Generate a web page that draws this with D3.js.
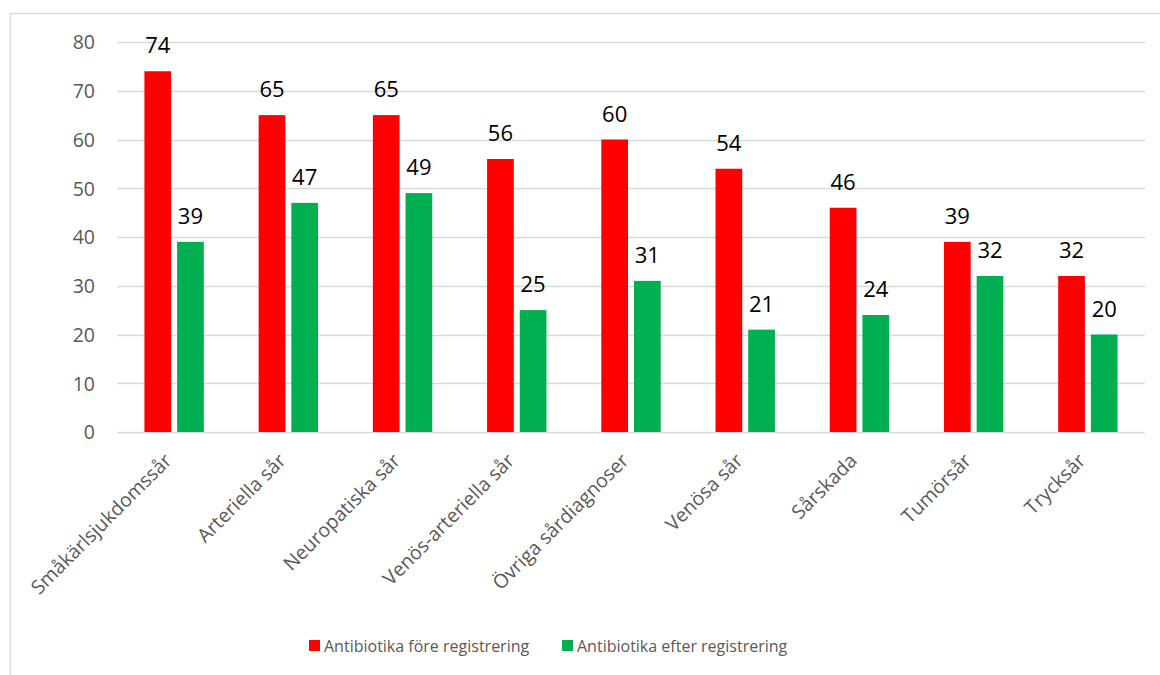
<!DOCTYPE html>
<html><head><meta charset="utf-8">
<script src="https://cdn.jsdelivr.net/npm/d3@7"></script>
<style>body{margin:0;background:#fff;} svg{display:block;font-family:"Open Sans",sans-serif;}</style>
</head><body>
<svg id="c" width="1160" height="675"></svg>
<script>
const categories = ["Småkärlsjukdomssår","Arteriella sår","Neuropatiska sår","Venös-arteriella sår","Övriga sårdiagnoser","Venösa sår","Sårskada","Tumörsår","Trycksår"];
const seriesNames = ["Antibiotika före registrering","Antibiotika efter registrering"];
const fore = [74,65,65,56,60,54,46,39,32];
const efter = [39,47,49,25,31,21,24,32,20];
const yTicks = [0,10,20,30,40,50,60,70,80];
const colors = ["#ff0000","#00b050"];

const svg = d3.select("#c");
svg.append("rect").attr("x",10.5).attr("y",13.5).attr("width",1200).attr("height",700)
  .attr("fill","none").attr("stroke","#d9d9d9").attr("stroke-width",1.3);

const x0 = d3.scaleBand().domain(categories).range([117,1145]).paddingInner(0.48).paddingOuter(0.24);
const x1 = d3.scaleBand().domain([0,1]).range([0,x0.bandwidth()]).paddingInner(0.183);
const y = d3.scaleLinear().domain([0,80]).range([432,42]);

// gridlines
const g = svg.append("g");
g.selectAll("line.grid").data(yTicks).join("line")
  .attr("x1",117).attr("x2",1145).attr("y1",d=>Math.round(y(d))+0.5).attr("y2",d=>Math.round(y(d))+0.5)
  .attr("stroke","#d9d9d9").attr("stroke-width",1.3);

// y labels
const yAxis = d3.axisLeft(y).tickValues(yTicks).tickSize(0).tickPadding(0);
const ya = svg.append("g").attr("transform","translate(95,0)").call(yAxis);
ya.select(".domain").remove();
ya.selectAll("text").attr("font-size",19.5).attr("fill","#595959").attr("font-family","Open Sans").attr("dy","0.35em");

// bars
const series = [fore, efter];
series.forEach((vals,si)=>{
  svg.append("g").selectAll("rect").data(vals).join("rect")
    .attr("x",(d,i)=>x0(categories[i])+x1(si))
    .attr("width",x1.bandwidth())
    .attr("y",d=>y(d)).attr("height",d=>y(0)-y(d))
    .attr("fill",colors[si]);
  svg.append("g").selectAll("text").data(vals).join("text")
    .attr("x",(d,i)=>x0(categories[i])+x1(si)+x1.bandwidth()/2)
    .attr("y",d=>y(d)-18)
    .attr("text-anchor","middle").attr("font-size",22).attr("fill","#000")
    .text(d=>d);
});

// x labels
const xAxis = d3.axisBottom(x0).tickSize(0).tickPadding(0);
const xa = svg.append("g").attr("transform","translate(0,432)").call(xAxis);
xa.select(".domain").remove();
xa.selectAll("text").attr("font-size",19.5).attr("fill","#595959").attr("font-family","Open Sans")
  .attr("text-anchor","end").attr("dy","0.35em").attr("y",0)
  .attr("transform","translate(-6,25) rotate(-45)");

// legend
const legX = [309,562];
const leg = svg.append("g");
seriesNames.forEach((n,i)=>{
  leg.append("rect").attr("x",legX[i]).attr("y",640).attr("width",11).attr("height",11).attr("fill",colors[i]);
  leg.append("text").attr("x",legX[i]+15).attr("y",652).attr("font-size",16).attr("fill","#595959").text(n);
});
</script>
</body></html>
